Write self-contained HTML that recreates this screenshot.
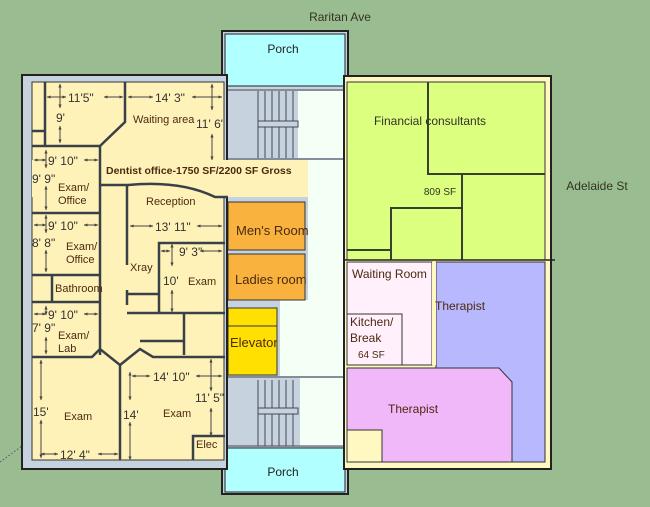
<!DOCTYPE html>
<html><head><meta charset="utf-8"><style>
html,body{margin:0;padding:0;background:#99bc91;}
svg{display:block;font-family:"Liberation Sans","DejaVu Sans",sans-serif;}
</style></head><body>
<svg width="650" height="507" viewBox="0 0 650 507" xmlns="http://www.w3.org/2000/svg">
<defs>
<marker id="a" viewBox="0 0 10 10" refX="9" refY="5" markerWidth="4" markerHeight="4" orient="auto-start-reverse"><path d="M0,1 L10,5 L0,9z" fill="#444"/></marker>
</defs>
<rect width="650" height="507" fill="#99bc91"/>
<line x1="0" y1="462" x2="22" y2="446" stroke="#556" stroke-dasharray="1.5,2"/>
<text x="340" y="21" font-size="12" fill="#332" text-anchor="middle">Raritan Ave</text>
<text x="597" y="190" font-size="12" fill="#332" text-anchor="middle">Adelaide St</text>

<rect x="222" y="31" width="126" height="463" fill="#c6d3df" stroke="#222" stroke-width="2"/>
<rect x="225" y="34" width="120" height="52" fill="#b2ffff" stroke="#222"/>
<text x="283" y="53" font-size="12" fill="#222" text-anchor="middle">Porch</text>
<rect x="225" y="448" width="120" height="44" fill="#b2ffff" stroke="#222"/>
<text x="283" y="476" font-size="12" fill="#222" text-anchor="middle">Porch</text>
<rect x="298" y="91" width="46" height="67" fill="#f4fff6"/>
<rect x="308" y="160" width="36" height="216" fill="#f4fff6"/>
<rect x="280" y="300" width="64" height="76" fill="#f4fff6"/>
<rect x="300" y="378" width="44" height="68" fill="#f4fff6"/>
<g stroke="#445" stroke-width="1" fill="none">
<path d="M258,91V158 M265,91V158 M272,91V158 M279,91V158 M286,91V158 M293,91V158"/>
<rect x="258" y="121" width="40" height="6" fill="#c6d3df"/>
<path d="M258,380V446 M265,380V446 M272,380V446 M279,380V446 M286,380V446 M293,380V446"/>
<rect x="258" y="408" width="40" height="6" fill="#c6d3df"/>
<path d="M225,90H345 M225,159H345 M225,377H345 M225,446H345"/>
</g>
<rect x="228" y="202" width="77" height="48" fill="#f9b23e" stroke="#333"/>
<text x="236" y="235" font-size="13" fill="#4a2a10">Men's Room</text>
<rect x="228" y="254" width="77" height="46" fill="#f9b23e" stroke="#333"/>
<text x="235" y="284" font-size="13" fill="#4a2a10">Ladies room</text>
<rect x="228" y="308" width="49" height="67" fill="#ffe000" stroke="#333"/>
<line x1="228" y1="326" x2="277" y2="326" stroke="#333"/>
<text x="230" y="347" font-size="13" fill="#4a2a10">Elevator</text>

<rect x="22" y="75" width="205" height="394" fill="#c6d3df" stroke="#222" stroke-width="2"/>
<rect x="32" y="82" width="192" height="378" fill="#fff2b8" stroke="#333"/>
<rect x="32" y="160" width="276" height="37" fill="#fff2b8"/>
<g stroke="#3a4048" stroke-width="2.5" fill="none">
<path d="M32,131H45 M45,82V146"/>
<path d="M125,82V122L100,146H32"/>
<path d="M100,146V355"/>
<path d="M32,213H100 M32,275H100 M52,275V302 M32,302H100"/>
<path d="M32,357H92L100,349L120,365L140,349L153,357H225"/>
<path d="M120,365V460"/>
<path d="M193,460V436H225"/>
<path d="M100,185H128 Q180,180 215,197H228"/>
<path d="M127,185V265 M127,290V305"/>
<path d="M159,313V243H225"/>
<path d="M127,294H159 M127,313H225"/>
<path d="M184,313V355 M140,341H184V355"/>
</g>
<g stroke="#444" stroke-width="1" marker-start="url(#a)" marker-end="url(#a)">
<line x1="47" y1="97" x2="66" y2="97"/><line x1="104" y1="97" x2="123" y2="97"/>
<line x1="60" y1="84" x2="60" y2="108"/><line x1="60" y1="126" x2="60" y2="143"/>
<line x1="128" y1="97" x2="153" y2="97"/><line x1="192" y1="97" x2="222" y2="97"/>
<line x1="212" y1="84" x2="212" y2="110"/><line x1="212" y1="134" x2="212" y2="160"/>
<line x1="34" y1="160" x2="46" y2="160"/><line x1="84" y1="160" x2="98" y2="160"/>
<line x1="46" y1="150" x2="46" y2="168"/><line x1="46" y1="186" x2="46" y2="210"/>
<line x1="34" y1="225" x2="46" y2="225"/><line x1="84" y1="225" x2="98" y2="225"/>
<line x1="46" y1="215" x2="46" y2="233"/><line x1="46" y1="250" x2="46" y2="272"/>
<line x1="34" y1="314" x2="46" y2="314"/><line x1="84" y1="314" x2="98" y2="314"/>
<line x1="46" y1="306" x2="46" y2="315"/><line x1="46" y1="337" x2="46" y2="354"/>
<line x1="130" y1="226" x2="153" y2="226"/><line x1="197" y1="226" x2="222" y2="226"/>
<line x1="161" y1="251" x2="170" y2="251"/><line x1="200" y1="251" x2="222" y2="251"/>
<line x1="172" y1="244" x2="172" y2="266"/><line x1="172" y1="290" x2="172" y2="312"/>
<line x1="41" y1="360" x2="41" y2="400"/><line x1="41" y1="420" x2="41" y2="458"/>
<line x1="41" y1="454" x2="58" y2="454"/><line x1="98" y1="454" x2="118" y2="454"/>
<line x1="130" y1="372" x2="130" y2="400"/><line x1="130" y1="422" x2="130" y2="460"/>
<line x1="132" y1="376" x2="150" y2="376"/><line x1="196" y1="376" x2="222" y2="376"/>
<line x1="211" y1="359" x2="211" y2="391"/><line x1="211" y1="408" x2="211" y2="436"/>
</g>
<g font-size="12" fill="#333" stroke="none">
<text x="68" y="102">11'5"</text>
<text x="56" y="122">9'</text>
<text x="155" y="102">14' 3"</text>
<text x="196" y="128">11' 6"</text>
<text x="48" y="165">9' 10"</text>
<text x="32" y="183">9' 9"</text>
<text x="48" y="230">9' 10"</text>
<text x="32" y="247">8' 8"</text>
<text x="48" y="319">9' 10"</text>
<text x="32" y="332">7' 9"</text>
<text x="155" y="231">13' 11"</text>
<text x="179" y="256">9' 3"</text>
<text x="163" y="285">10'</text>
<text x="33" y="416">15'</text>
<text x="60" y="459">12' 4"</text>
<text x="123" y="419">14'</text>
<text x="153" y="381">14' 10"</text>
<text x="195" y="402">11' 5"</text>
</g>
<g font-size="11" fill="#4a2a10">
<text x="133" y="123">Waiting area</text>
<text x="106" y="174" font-weight="bold" font-size="10.5">Dentist office-1750 SF/2200 SF Gross</text>
<text x="146" y="205">Reception</text>
<text x="58" y="191">Exam/</text><text x="58" y="204">Office</text>
<text x="66" y="250">Exam/</text><text x="66" y="263">Office</text>
<text x="55" y="292">Bathroom</text>
<text x="58" y="339">Exam/</text><text x="58" y="352">Lab</text>
<text x="130" y="271">Xray</text>
<text x="188" y="285">Exam</text>
<text x="64" y="420">Exam</text>
<text x="163" y="417">Exam</text>
<text x="196" y="448">Elec</text>
</g>

<rect x="344" y="76" width="207" height="393" fill="#fff8c0" stroke="#222" stroke-width="2"/>
<rect x="347" y="82" width="198" height="178" fill="#dcff80" stroke="#333"/>
<g stroke="#3a4030" stroke-width="2" fill="none">
<path d="M428,82V174H545 M462,174V260 M391,260V208H462 M347,250H391"/>
</g>
<line x1="344" y1="260" x2="555" y2="260" stroke="#222" stroke-width="1.5"/>
<text x="430" y="125" font-size="12" fill="#332" text-anchor="middle">Financial consultants</text>
<text x="440" y="195" font-size="10" fill="#332" text-anchor="middle">809 SF</text>
<rect x="347" y="262" width="85" height="103" fill="#fff0fb" stroke="#333"/>
<rect x="347" y="314" width="55" height="51" fill="#fff0fb" stroke="#333"/>
<rect x="436" y="262" width="109" height="200" fill="#b8b8ff" stroke="#333"/>
<rect x="432" y="262" width="4" height="103" fill="#fff8c0"/>
<path d="M347,368H499L512,382V462H347Z" fill="#f0b8f8" stroke="#333"/>
<rect x="347" y="430" width="35" height="32" fill="#fff8c0" stroke="#333"/>
<g fill="#4a2a10" font-size="12">
<text x="352" y="278">Waiting Room</text>
<text x="435" y="310">Therapist</text>
<text x="350" y="326">Kitchen/</text><text x="350" y="342">Break</text>
<text x="358" y="358" font-size="10">64 SF</text>
<text x="388" y="413">Therapist</text>
</g>
</svg>
</body></html>
